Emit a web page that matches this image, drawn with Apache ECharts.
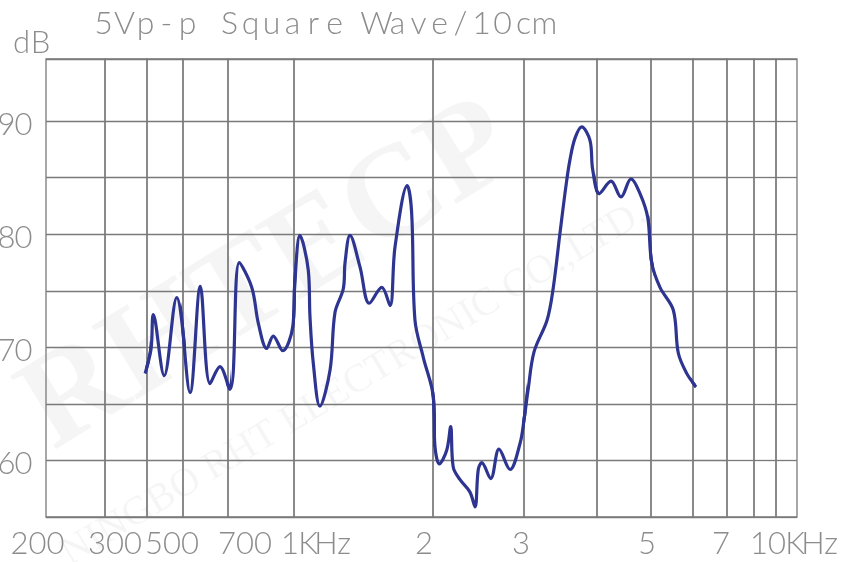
<!DOCTYPE html>
<html>
<head>
<meta charset="utf-8">
<style>
  html, body { margin: 0; padding: 0; background: #fff; }
  #chart { width: 844px; height: 562px; }
</style>
<script src="https://cdn.jsdelivr.net/npm/echarts@6/dist/echarts.min.js"></script>
</head>
<body>
<div id="chart"></div>
<script>
// response curve: frequency (Hz) and level (dB)
const freqHz = [
  395, 410, 416, 445, 481, 527, 569, 612, 659, 708,
  744, 796, 825, 863, 894, 941, 993, 1005, 1030, 1074,
  1083, 1101, 1138, 1197, 1227, 1279, 1290, 1322, 1390, 1456,
  1549, 1614, 1655, 1759, 1798, 1828, 1906, 2003, 2018, 2057,
  2126, 2164, 2189, 2256, 2358, 2412, 2447, 2485, 2586, 2684,
  2819, 2947, 3000, 3048, 3121, 3285, 3363, 3457, 3540, 3596,
  3668, 3766, 3891, 3933, 4038, 4238, 4417, 4603, 4778, 4932,
  5015, 5199, 5508, 5629, 5838, 6082
];
const levelDb = [
  67.7, 69.8, 72.9, 67.5, 74.4, 66.0, 75.4, 66.8, 68.3, 66.3,
  77.5, 75.3, 72.1, 69.9, 71.0, 69.7, 71.8, 76.0, 79.9, 76.8,
  72.7, 68.6, 64.8, 68.0, 73.1, 75.2, 77.5, 79.9, 77.1, 73.9,
  75.3, 73.7, 78.9, 84.3, 81.9, 72.4, 69.1, 65.6, 61.2, 59.7,
  60.9, 63.0, 59.4, 58.3, 57.2, 55.9, 59.2, 59.8, 58.4, 61.0,
  59.2, 61.5, 63.6, 66.2, 69.6, 72.4, 75.1, 80.1, 84.3, 86.6,
  88.5, 89.5, 88.3, 85.7, 83.6, 84.7, 83.3, 84.9, 83.6, 81.5,
  77.5, 75.3, 73.3, 69.5, 67.7, 66.5
];

// frequency grid lines and their labels
const freqTicks = [200, 300, 400, 500, 700, 1000, 2000, 3000, 4000, 5000, 6000, 7000, 8000, 9000, 10000];
const freqLabels = ['200', '300', '', '500', '700', '1KHz', '2', '3', '', '5', '', '7', '', '', '10KHz'];
const dbLabels = [60, 70, 80, 90];

// layout: where each frequency line sits on the sheet, and label nudges
const lineX = [46, 105, 147, 183, 228, 294, 433, 524, 597, 651, 693, 727, 754, 776, 797];
const labelShift = [-8.5, 10, 0, -11, 17, 23, -9, -3, 0, -4, 0, -6, 0, 0, -2];

const FONT = 'Lato';
const GRID_TOP = 59;
const GRID_H = 458;
const LINE = '#7a7a7a';
const TEXT = '#8c8c8c';
const CURVE = '#2e3591';

// one rich token per character, so the text gets an even pitch
function mono(s, key) {
  return s.split('').map(function (c) { return '{' + key + '|' + c + '}'; }).join('');
}
function charStyle(w, size) {
  return { width: w, align: 'center', fontFamily: FONT, fontWeight: 300, fontSize: size, color: TEXT };
}

function segment(lo, hi) {
  let s = 0;
  while (s < freqHz.length && freqHz[s] < lo) s++;
  let e = freqHz.length - 1;
  while (e >= 0 && freqHz[e] > hi) e--;
  if (s >= freqHz.length || e < 0) return null;
  s = Math.max(0, s - 2);
  e = Math.min(freqHz.length - 1, e + 2);
  const out = [];
  for (let k = s; k <= e; k++) out.push([freqHz[k], levelDb[k]]);
  return out;
}

// a line colour per split line: 55..95 then the 95.5 edge; hide the 95 one
const splitColors = [LINE, LINE, LINE, LINE, LINE, LINE, LINE, LINE, 'rgba(0,0,0,0)', LINE];

const labelText = {
  align: 'center',
  verticalAlign: 'top',
  padding: [11, 0, 0, 0],
  rich: { c: charStyle(18, 31) }
};

const grids = [], xAxes = [], yAxes = [], series = [];
const last = freqTicks.length - 2;
for (let i = 0; i <= last; i++) {
  grids.push({
    left: lineX[i], width: lineX[i + 1] - lineX[i], top: GRID_TOP, height: GRID_H,
    show: true, borderColor: LINE, borderWidth: 1.3, containLabel: false, outerBoundsMode: 'none'
  });

  const x = {
    type: 'log', gridIndex: i, min: freqTicks[i], max: freqTicks[i + 1],
    axisLine: { show: false }, axisTick: { show: false },
    axisLabel: { show: false }, splitLine: { show: false }, nameMoveOverlap: false
  };
  if (freqLabels[i]) {
    x.name = mono(freqLabels[i], 'c');
    x.nameLocation = 'start';
    x.nameGap = -labelShift[i];
    x.nameTextStyle = labelText;
  } else if (i === last && freqLabels[i + 1]) {
    x.name = mono(freqLabels[i + 1], 'c');
    x.nameLocation = 'end';
    x.nameGap = labelShift[i + 1];
    x.nameTextStyle = labelText;
  }
  xAxes.push(x);

  const y = {
    type: 'value', gridIndex: i, min: 55, max: 95.5, interval: 5,
    axisLine: { show: false }, axisTick: { show: false },
    axisLabel: { show: false },
    splitLine: { show: true, lineStyle: { color: splitColors, width: 1.3 } }
  };
  if (i === 0) {
    y.axisLabel = {
      show: true, margin: 14, padding: [8, 0, 0, 0],
      formatter: function (v) { return dbLabels.indexOf(v) >= 0 ? mono(String(v), 'c') : ''; },
      rich: { c: charStyle(17, 31) }
    };
    y.name = mono('dB', 'c');
    y.nameLocation = 'end';
    y.nameGap = 1;
    y.nameTextStyle = { align: 'right', verticalAlign: 'bottom', padding: [0, -4, 0, 0], rich: { c: charStyle(19, 31) } };
  }
  yAxes.push(y);

  const data = segment(freqTicks[i], freqTicks[i + 1]);
  if (data) {
    series.push({
      type: 'line', xAxisIndex: i, yAxisIndex: i, data: data,
      smooth: 0.35, symbol: 'none', clip: true, silent: true, z: 5,
      lineStyle: { color: CURVE, width: 3.2 }
    });
  }
}

const chart = echarts.init(document.getElementById('chart'), null, { renderer: 'canvas' });
chart.setOption({
  backgroundColor: '#fff',
  animation: false,
  title: {
    left: 88, top: 3,
    text: mono('5Vp-p Square Wave/10cm', 't'),
    textStyle: { rich: { t: charStyle(21, 32) } }
  },
  // faint maker's watermark behind the sheet
  graphic: [
    {
      type: 'text', x: 70, y: 478, rotation: 0.55, z: -10, silent: true,
      style: { text: 'RHTECP', font: 'bold 132px "Liberation Serif"', fill: 'rgba(0,0,0,0.04)', textAlign: 'left', textVerticalAlign: 'bottom' }
    },
    {
      type: 'text', x: 75, y: 574, rotation: 0.54, z: -10, silent: true,
      style: { text: 'NINGBO RHT ELECTRONIC CO.,LTD.', font: '40px "Liberation Serif"', fill: 'rgba(0,0,0,0.04)', textAlign: 'left', textVerticalAlign: 'bottom' }
    }
  ],
  grid: grids,
  xAxis: xAxes,
  yAxis: yAxes,
  series: series
});
</script>
</body>
</html>
